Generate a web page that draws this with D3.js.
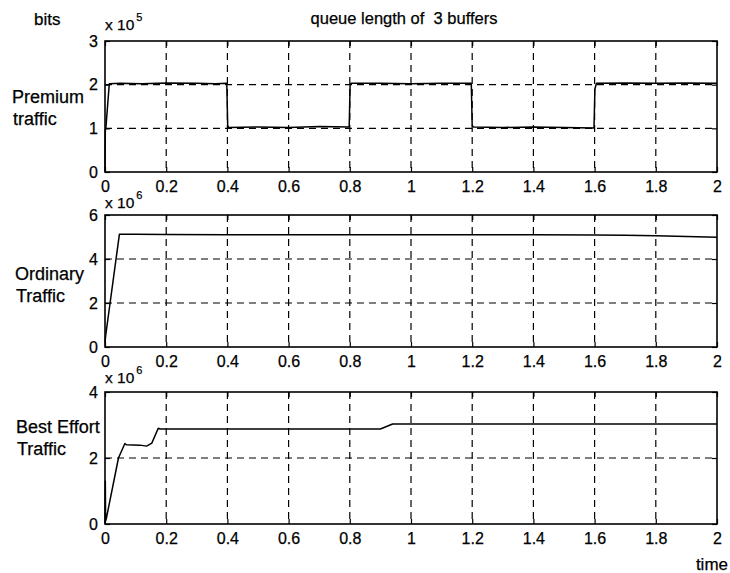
<!DOCTYPE html>
<html>
<head>
<meta charset="utf-8">
<script src="https://cdn.jsdelivr.net/npm/d3@7"></script>
<style>
  html, body { margin: 0; padding: 0; background: #fff; }
  svg { display: block; }
  text { font-family: "Liberation Sans", Arial, Helvetica, sans-serif; fill: #000; stroke: #000; stroke-width: 0.25px; }
</style>
</head>
<body>
<svg id="chart" width="730" height="573"></svg>
<script>
// Time axis shared by the three buffers (seconds)
const timeTicks = [0, 0.2, 0.4, 0.6, 0.8, 1, 1.2, 1.4, 1.6, 1.8, 2];

// Queue length of the premium buffer (x 10^5 bits)
const premiumSeries = [
  [0, 0], [0.001, 0.95], [0.003, 1.02], [0.014, 2.02], [0.05, 2.03], [0.12, 2.02],
  [0.2, 2.04], [0.3, 2.03], [0.36, 2.02], [0.398, 2.03],
  [0.401, 1.06], [0.404, 1.02], [0.5, 1.03], [0.6, 1.02], [0.7, 1.04], [0.798, 1.03],
  [0.801, 2.0], [0.804, 2.03], [0.9, 2.03], [1.0, 2.02], [1.1, 2.03], [1.197, 2.03],
  [1.2, 1.06], [1.205, 1.03], [1.3, 1.02], [1.4, 1.03], [1.5, 1.02], [1.598, 1.01],
  [1.601, 1.9], [1.606, 2.03], [1.7, 2.04], [1.8, 2.03], [1.9, 2.04], [2.0, 2.03]
];

// Queue length of the ordinary buffer (x 10^6 bits)
const ordinarySeries = [
  [0, 0.2], [0.002, 0.5], [0.047, 5.12], [0.1, 5.12], [0.2, 5.11], [0.4, 5.1],
  [0.6, 5.1], [0.8, 5.1], [1.0, 5.1], [1.2, 5.1], [1.4, 5.1], [1.6, 5.09],
  [1.7, 5.08], [1.8, 5.06], [1.9, 5.02], [2.0, 4.99]
];

// Queue length of the best effort buffer (x 10^6 bits)
const bestEffortSeries = [
  [0, 0], [0.001, 1.3], [0.002, 0.1], [0.004, 0.15], [0.044, 2.0], [0.065, 2.44],
  [0.07, 2.4], [0.114, 2.39], [0.136, 2.36], [0.153, 2.45], [0.174, 2.9],
  [0.18, 2.88], [0.4, 2.88], [0.6, 2.88], [0.8, 2.88], [0.9, 2.88], [0.94, 3.03],
  [1.2, 3.03], [1.6, 3.03], [2.0, 3.03]
];

const premiumTicks = [0, 1, 2, 3];
const ordinaryTicks = [0, 2, 4, 6];
const bestEffortTicks = [0, 2, 4];

const premiumLabel = ["Premium", "traffic"];
const ordinaryLabel = ["Ordinary", "Traffic"];
const bestEffortLabel = ["Best Effort", "Traffic"];

const chartTitle = "queue length of  3 buffers";
const unitLabel = "bits";
const timeLabel = "time";

const svg = d3.select("#chart");
const x = d3.scaleLinear().domain([0, 2]).range([105, 717]);
const fmt = d3.format("~g");

const panels = [
  { series: premiumSeries, ticks: premiumTicks, label: premiumLabel, exp: "5",
    top: 41, bottom: 172, labelX: 12, labelY: 103, expY: 30 },
  { series: ordinarySeries, ticks: ordinaryTicks, label: ordinaryLabel, exp: "6",
    top: 215, bottom: 347, labelX: 15, labelY: 280, expY: 208 },
  { series: bestEffortSeries, ticks: bestEffortTicks, label: bestEffortLabel, exp: "6",
    top: 392, bottom: 524, labelX: 16, labelY: 433, expY: 383 }
];

panels.forEach(p => {
  const y = d3.scaleLinear()
    .domain([0, d3.max(p.ticks)])
    .range([p.bottom, p.top]);
  const g = svg.append("g");

  // dashed grid
  g.append("g").selectAll("line")
    .data(timeTicks.slice(1, -1))
    .join("line")
    .attr("x1", d => x(d)).attr("x2", d => x(d))
    .attr("y1", p.top).attr("y2", p.bottom)
    .attr("stroke", "#000").attr("stroke-width", 1.2)
    .attr("stroke-dasharray", "7,5");
  g.append("g").selectAll("line")
    .data(p.ticks.slice(1, -1))
    .join("line")
    .attr("x1", x(0)).attr("x2", x(2))
    .attr("y1", d => y(d)).attr("y2", d => y(d))
    .attr("stroke", "#000").attr("stroke-width", 1.2)
    .attr("stroke-dasharray", "7,5");

  // trace
  g.append("path")
    .datum(p.series)
    .attr("fill", "none")
    .attr("stroke", "#000")
    .attr("stroke-width", 1.5)
    .attr("stroke-linejoin", "round")
    .attr("d", d3.line().x(d => x(d[0])).y(d => y(d[1])));

  // axes with inward ticks
  const xb = g.append("g").attr("transform", `translate(0,${p.bottom})`)
    .call(d3.axisBottom(x).tickValues(timeTicks).tickFormat(fmt).tickSize(-5).tickPadding(8.5));
  const xt = g.append("g").attr("transform", `translate(0,${p.top})`)
    .call(d3.axisTop(x).tickValues(timeTicks).tickFormat("").tickSize(-5));
  const yl = g.append("g").attr("transform", `translate(${x(0)},0)`)
    .call(d3.axisLeft(y).tickValues(p.ticks).tickFormat(fmt).tickSize(-5).tickPadding(7));
  const yr = g.append("g").attr("transform", `translate(${x(2)},0)`)
    .call(d3.axisRight(y).tickValues(p.ticks).tickFormat("").tickSize(-5));
  [xb, xt, yl, yr].forEach(a => {
    a.select(".domain").remove();
    a.selectAll("line").attr("stroke", "#000").attr("stroke-width", 1.2);
    a.selectAll("text").attr("font-size", 16)
      .attr("font-family", '"Liberation Sans", Arial, sans-serif').attr("fill", "#000");
  });

  // frame
  g.append("rect")
    .attr("x", x(0)).attr("y", p.top)
    .attr("width", x(2) - x(0)).attr("height", p.bottom - p.top)
    .attr("fill", "none").attr("stroke", "#000").attr("stroke-width", 1.6);

  // scale exponent
  const e = g.append("text").attr("x", 105).attr("y", p.expY).attr("font-size", 15.5);
  e.append("tspan").text("x 10");
  e.append("tspan").attr("dy", -9).attr("dx", 2).attr("font-size", 11).text(p.exp);

  // row label
  g.append("text")
    .attr("x", p.labelX).attr("y", p.labelY).attr("font-size", 18)
    .selectAll("tspan").data(p.label).join("tspan")
    .attr("x", (d, i) => p.labelX + (i ? 1 : 0))
    .attr("dy", (d, i) => i ? 22 : 0)
    .text(d => d);
});

svg.append("text").attr("x", 34).attr("y", 25).attr("font-size", 17).text(unitLabel);
svg.append("text").attr("x", 404).attr("y", 24).attr("font-size", 16.5)
  .attr("text-anchor", "middle").attr("xml:space", "preserve")
  .style("white-space", "pre").text(chartTitle);
svg.append("text").attr("x", 728).attr("y", 570).attr("font-size", 17)
  .attr("text-anchor", "end").text(timeLabel);
</script>
</body>
</html>
